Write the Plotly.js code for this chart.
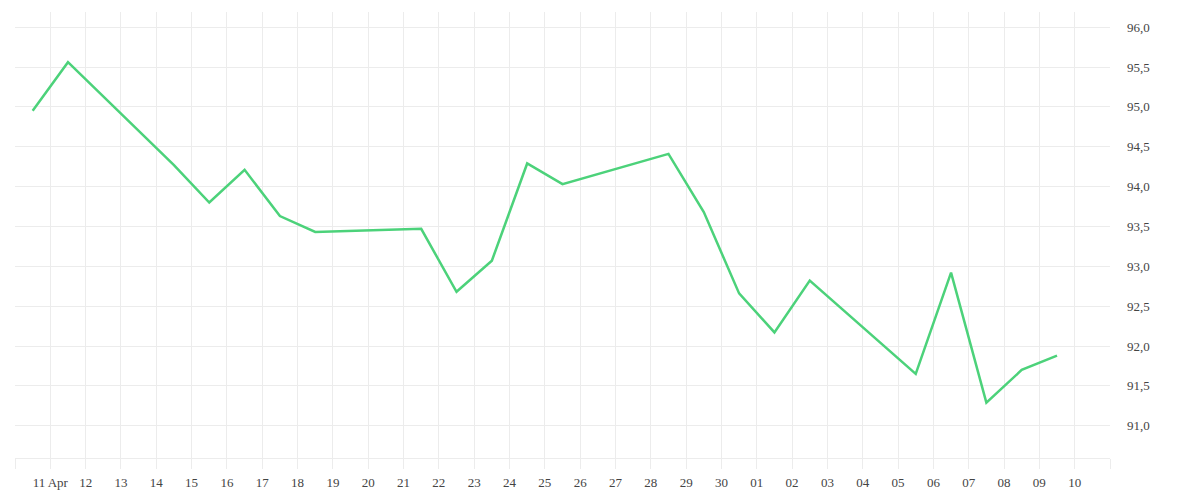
<!DOCTYPE html>
<html>
<head>
<meta charset="utf-8">
<script src="https://cdn.plot.ly/plotly-3.0.1.min.js"></script>
<style>html,body{margin:0;padding:0;background:#fff;}#chart{width:1200px;height:500px;}</style>
</head>
<body>
<div id="chart"></div>
<script>
// Data (points drawn at mid-day of each trading date)
const dates = [
  "2021-04-10","2021-04-11","2021-04-14","2021-04-15","2021-04-16","2021-04-17","2021-04-18",
  "2021-04-21","2021-04-22","2021-04-23","2021-04-24","2021-04-25",
  "2021-04-28","2021-04-29","2021-04-30","2021-05-01","2021-05-02",
  "2021-05-05","2021-05-06","2021-05-07","2021-05-08","2021-05-09"
];
const values = [
  94.95, 95.56, 94.27, 93.80, 94.21, 93.63, 93.43,
  93.47, 92.68, 93.07, 94.29, 94.03,
  94.41, 93.68, 92.66, 92.17, 92.82,
  91.65, 92.92, 91.29, 91.70, 91.88
];
// Tick days (Apr 10 .. May 11) and their labels
const tickDays = [
  "2021-04-10","2021-04-11","2021-04-12","2021-04-13","2021-04-14","2021-04-15","2021-04-16",
  "2021-04-17","2021-04-18","2021-04-19","2021-04-20","2021-04-21","2021-04-22","2021-04-23",
  "2021-04-24","2021-04-25","2021-04-26","2021-04-27","2021-04-28","2021-04-29","2021-04-30",
  "2021-05-01","2021-05-02","2021-05-03","2021-05-04","2021-05-05","2021-05-06","2021-05-07",
  "2021-05-08","2021-05-09","2021-05-10","2021-05-11"
];
const tickLabels = [
  "","11 Apr","12","13","14","15","16","17","18","19","20","21","22","23","24","25","26","27",
  "28","29","30","01","02","03","04","05","06","07","08","09","10",""
];
const yTicks = [91.0, 91.5, 92.0, 92.5, 93.0, 93.5, 94.0, 94.5, 95.0, 95.5, 96.0];

const xs = dates.map(d => d + " 12:00");

const gridColor = "#ececec";
const font = {family: "Liberation Serif, DejaVu Serif, serif", size: 13, color: "#444"};

Plotly.newPlot("chart", [{
  x: xs, y: values, type: "scatter", mode: "lines",
  line: {color: "#4cd27a", width: 2.5},
  hoverinfo: "x+y"
}], {
  width: 1200, height: 500,
  margin: {l: 15, r: 90, t: 12, b: 42},
  paper_bgcolor: "#fff", plot_bgcolor: "#fff",
  separators: ", ",
  showlegend: false,
  font: font,
  xaxis: {
    type: "date",
    range: ["2021-04-10", "2021-05-11"],
    tickmode: "array", tickvals: tickDays, ticktext: tickLabels,
    showgrid: true, gridcolor: gridColor, gridwidth: 1,
    ticks: "outside", ticklen: 10, tickcolor: gridColor, tickwidth: 1,
    showline: true, linecolor: gridColor, linewidth: 1,
    zeroline: false, tickfont: font, ticklabelstandoff: 2
  },
  yaxis: {
    side: "right",
    range: [90.595, 96.19],
    tickmode: "array", tickvals: yTicks,
    tickformat: ".1f",
    showgrid: true, gridcolor: gridColor, gridwidth: 1,
    ticks: "", showline: false, zeroline: false,
    tickfont: font, ticklabelstandoff: 16
  }
}, {displayModeBar: false, staticPlot: true});
</script>
</body>
</html>
